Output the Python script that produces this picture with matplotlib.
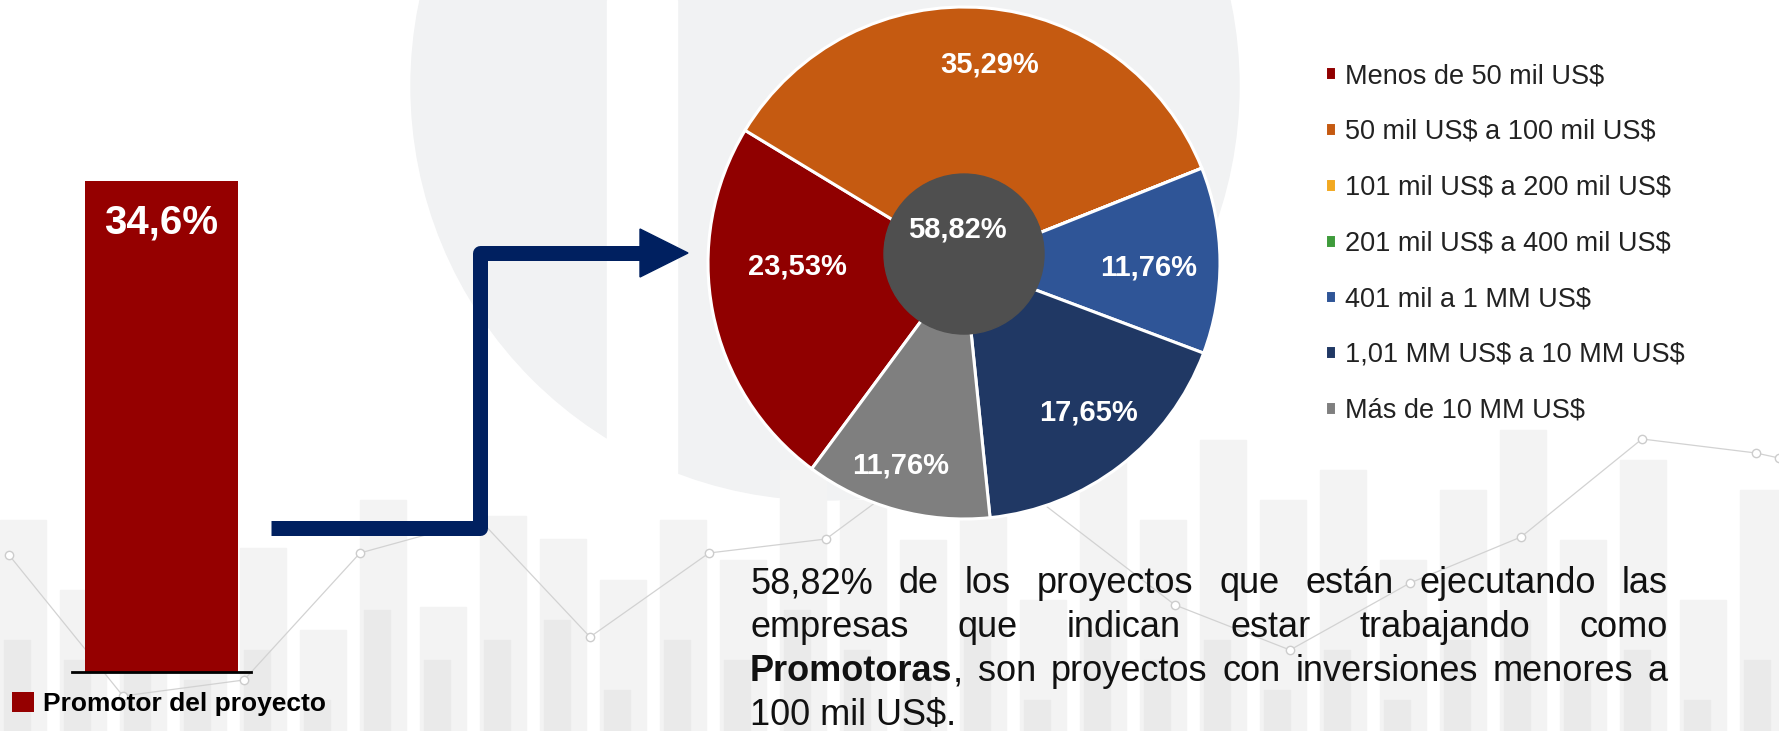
import matplotlib
matplotlib.use('Agg')
import numpy as np
import matplotlib.pyplot as plt
from matplotlib.patches import Circle, Rectangle, Polygon

plt.rcParams['font.family'] = ['Liberation Sans', 'DejaVu Sans']
plt.rcParams['text.parse_math'] = False

# ---- data ----
pie_labels = ['Menos de 50 mil US$', '50 mil US$ a 100 mil US$',
              '101 mil US$ a 200 mil US$', '201 mil US$ a 400 mil US$',
              '401 mil a 1 MM US$', '1,01 MM US$ a 10 MM US$', 'Más de 10 MM US$']
pie_values = [23.53, 35.29, 0, 0, 11.76, 17.65, 11.76]
pie_colors = ['#900000', '#C55A11', '#F2A921', '#3E9B3B', '#2F5597', '#203864', '#7F7F7F']

bar_categories = ['Promotor del proyecto']
bar_values = [34.6]

paragraph = [
    '58,82% de los proyectos que están ejecutando las',
    'empresas que indican estar trabajando como',
    '**Promotoras**, son proyectos con inversiones menores a',
    '100 mil US$.',
]

W, H = 1779, 731
navy = '#002060'

fig = plt.figure(figsize=(W / 100, H / 100), dpi=100)
fig.patch.set_facecolor('white')

# background axes in pixel coordinates (y down)
ax_bg = fig.add_axes([0, 0, 1, 1])
ax_bg.set_xlim(0, W)
ax_bg.set_ylim(H, 0)
ax_bg.axis('off')

# faint watermark
ax_bg.add_patch(Circle((825, 86), 414, color='#F1F2F3', zorder=0))
ax_bg.add_patch(Rectangle((607, 0), 70, 500, color='white', zorder=0.5))

# faint background bars
bg_x = np.arange(0, W, 60)
bg_tops = [520, 590, 562, 610, 548, 630, 500, 607, 516, 539, 580, 520,
           560, 470, 500, 540, 470, 600, 450, 520, 440, 500, 470, 560,
           490, 430, 540, 460, 600, 490]
bg_inner = [640, 660, 620, 680, 650, 700, 610, 660, 640, 620, 690, 640,
            660, 610, 650, 680, 620, 700, 630, 660, 640, 690, 650, 700,
            640, 620, 680, 650, 700, 660]
for x, t, t2 in zip(bg_x, bg_tops, bg_inner):
    ax_bg.add_patch(Rectangle((x, t), 46, H - t, color='#F3F3F3', zorder=1))
    ax_bg.add_patch(Rectangle((x + 4, t2), 26, H - t2, color='#EAEAEA', zorder=1.1))
line_x = [9, 123, 244, 360, 480, 590, 709, 826, 960, 1175, 1290, 1410, 1521, 1642, 1756, 1779]
line_y = [555, 696, 680, 553, 520, 637, 553, 539, 440, 605, 650, 583, 537, 439, 453, 458]
ax_bg.plot(line_x, line_y, color='#D2D2D2', lw=0.9, marker='o', ms=6,
           mfc='white', mec='#CCCCCC', zorder=1.2)

# arrow
ax_bg.plot([271, 480, 480, 642], [528, 528, 253, 253], color=navy, lw=10.8,
           solid_joinstyle='round', solid_capstyle='butt', zorder=3)
ax_bg.add_patch(Polygon([[640, 229], [688, 253], [640, 277]], closed=True,
                        color=navy, zorder=3))

# ---- bar ----
ax_bar = fig.add_axes([72 / W, (H - 672) / H, 179 / W, 522 / H])
ax_bar.set_facecolor('none')
bars = ax_bar.bar([0], bar_values, width=0.85, color='#950000', zorder=2)
ax_bar.set_xlim(-0.5, 0.5)
ax_bar.set_ylim(0, bar_values[0] * 1.063)
for s in ['top', 'left', 'right']:
    ax_bar.spines[s].set_visible(False)
ax_bar.spines['bottom'].set_color('black')
ax_bar.spines['bottom'].set_linewidth(2)
ax_bar.set_xticks([])
ax_bar.set_yticks([])
for b, v in zip(bars, bar_values):
    ax_bar.annotate(f'{v:.1f}%'.replace('.', ','), (b.get_x() + b.get_width() / 2, v),
                    xytext=(0, -30), textcoords='offset points', ha='center', va='center',
                    color='white', fontsize=29, fontweight='bold')

fig.legend([bars], bar_categories, loc='center left',
           bbox_to_anchor=(12 / W, 1 - 704 / H), frameon=False, borderpad=0,
           borderaxespad=0, handlelength=0.83, handleheight=0.83,
           handletextpad=0.34, prop={'size': 19, 'weight': 'bold'})

# ---- pie ----
R = 256
cx, cy = 964, 263
side = 2 * R * 1.1
ax_pie = fig.add_axes([(cx - side / 2) / W, (H - cy - side / 2) / H, side / W, side / H])
wedges, _ = ax_pie.pie(pie_values, colors=pie_colors, startangle=233.5,
                       counterclock=False, radius=1,
                       wedgeprops=dict(edgecolor='white', linewidth=2.2))
ax_pie.set_xlim(-1.1, 1.1)
ax_pie.set_ylim(-1.1, 1.1)
ax_pie.set_aspect('equal')
ax_pie.axis('off')

label_dist = [0.65, 0.78, 0, 0, 0.72, 0.76, 0.83]
label_turn = [-9.8, -2.6, 0, 0, -1.9, 2.2, -2.0]
for w, v, d, t in zip(wedges, pie_values, label_dist, label_turn):
    if v == 0:
        continue
    ang = np.deg2rad((w.theta1 + w.theta2) / 2 + t)
    ax_pie.text(d * np.cos(ang), d * np.sin(ang), f'{v:.2f}%'.replace('.', ','),
                ha='center', va='center', color='white', fontsize=21, fontweight='bold')

ax_pie.add_patch(Circle((0, 0.035), 0.3125, color='#4F4F4F', zorder=5))
total = pie_values[0] + pie_values[1]
ax_pie.text(-0.027, 0.129, f'{total:.2f}%'.replace('.', ','), ha='center', va='center',
            color='white', fontsize=21, fontweight='bold', zorder=6)

fig.legend(wedges, pie_labels, loc='upper left',
           bbox_to_anchor=(1325 / W, 1 - 63 / H), frameon=False, borderpad=0,
           borderaxespad=0, handlelength=0.41, handleheight=0.41,
           handletextpad=0.33, labelspacing=1.10,
           prop={'size': 19.5}, labelcolor='#222222')

# ---- justified paragraph ----
FS = 26
left, right = 750, 1668
baselines = [593, 637, 681, 725]
fig.canvas.draw()
renderer = fig.canvas.get_renderer()


def seg_width(s, weight):
    t = ax_bg.text(0, 0, s, fontsize=FS, fontweight=weight)
    w = t.get_window_extent(renderer).width
    t.remove()
    return w


for i, (line, yb) in enumerate(zip(paragraph, baselines)):
    words = []
    for tok in line.split(' '):
        parts = tok.split('**')
        segs = [(p, 'bold' if k % 2 else 'normal') for k, p in enumerate(parts) if p]
        words.append(segs)
    if i == len(paragraph) - 1:
        ax_bg.text(left, yb, line.replace('**', ''), fontsize=FS, color='#111111',
                   ha='left', va='baseline', zorder=4)
        continue
    widths = [sum(seg_width(s, wt) for s, wt in segs) for segs in words]
    gap = (right - left - sum(widths)) / (len(words) - 1)
    x = left
    for segs, wd in zip(words, widths):
        xs = x
        for s, wt in segs:
            ax_bg.text(xs, yb, s, fontsize=FS, fontweight=wt, color='#111111',
                       ha='left', va='baseline', zorder=4)
            xs += seg_width(s, wt)
        x += wd + gap

fig.savefig('out.png', dpi=100, facecolor='white')
